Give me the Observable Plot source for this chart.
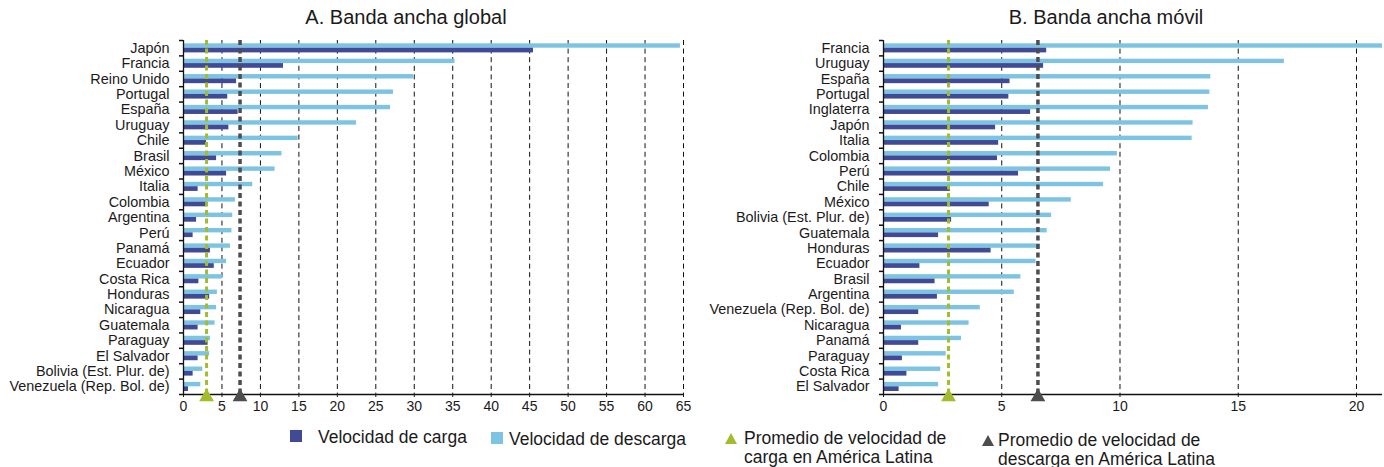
<!DOCTYPE html>
<html>
<head>
<meta charset="utf-8">
<script src="https://cdn.jsdelivr.net/npm/d3@7"></script>
<script src="https://cdn.jsdelivr.net/npm/@observablehq/plot@0.6"></script>
<style>
  html, body { margin: 0; padding: 0; background: #fff; }
  body { width: 1384px; height: 467px; position: relative; overflow: hidden; font-family: "Liberation Sans", Arial, sans-serif; color: #1a1a1a; }
  .title { position: absolute; top: 6px; font-size: 20px; white-space: nowrap; transform: translateX(-50%); }
  .panel { position: absolute; top: 0; }
  .leg { position: absolute; font-size: 17.5px; line-height: 19px; white-space: nowrap; }
  .sw { position: absolute; width: 12px; height: 12px; }
  .tri { position: absolute; width: 0; height: 0; border-left: 6px solid transparent; border-right: 6px solid transparent; border-bottom: 11px solid; }
</style>
</head>
<body>
<div class="title" style="left:406px">A. Banda ancha global</div>
<div class="title" style="left:1106px">B. Banda ancha móvil</div>
<div id="left" class="panel" style="left:0px"></div>
<div id="right" class="panel" style="left:700px"></div>

<div class="sw" style="left:290px;top:430px;background:#414a94"></div>
<div class="leg" style="left:318px;top:428px">Velocidad de carga</div>
<div class="sw" style="left:491px;top:432px;background:#7dc3e3"></div>
<div class="leg" style="left:509px;top:430px">Velocidad de descarga</div>
<div class="tri" style="left:725px;top:433px;border-bottom-color:#a3bd2a"></div>
<div class="leg" style="left:744px;top:429px">Promedio de velocidad de<br>carga en América Latina</div>
<div class="tri" style="left:982px;top:435px;border-bottom-color:#4d4d4f"></div>
<div class="leg" style="left:998px;top:431px">Promedio de velocidad de<br>descarga en América Latina</div>

<script>
// ---- Panel A: Banda ancha global ----
const globalCountries = ["Japón","Francia","Reino Unido","Portugal","España","Uruguay","Chile","Brasil","México","Italia","Colombia","Argentina","Perú","Panamá","Ecuador","Costa Rica","Honduras","Nicaragua","Guatemala","Paraguay","El Salvador","Bolivia (Est. Plur. de)","Venezuela (Rep. Bol. de)"];
const globalDownload = [64.6,35.3,29.9,27.3,26.9,22.5,14.9,12.8,11.9,9.0,6.75,6.4,6.3,6.1,5.6,5.1,4.4,4.3,4.1,3.5,3.4,2.5,2.25];
const globalUpload   = [45.5,13.0,6.9,5.75,7.1,5.9,3.0,4.3,5.6,1.9,3.1,1.7,1.25,3.5,4.0,2.0,3.4,2.25,1.9,3.2,1.9,1.25,0.65];
const globalAvgUpload = 3.0;
const globalAvgDownload = 7.35;
const globalTicks = [0,5,10,15,20,25,30,35,40,45,50,55,60,65];
const globalMax = 65;

// ---- Panel B: Banda ancha móvil ----
const mobileCountries = ["Francia","Uruguay","España","Portugal","Inglaterra","Japón","Italia","Colombia","Perú","Chile","México","Bolivia (Est. Plur. de)","Guatemala","Honduras","Ecuador","Brasil","Argentina","Venezuela (Rep. Bol. de)","Nicaragua","Panamá","Paraguay","Costa Rica","El Salvador"];
const mobileDownload = [21.1,16.95,13.84,13.8,13.74,13.09,13.05,9.89,9.6,9.3,7.94,7.11,6.92,6.63,6.45,5.81,5.53,4.09,3.62,3.3,2.65,2.42,2.33];
const mobileUpload   = [6.9,6.77,5.35,5.3,6.22,4.74,4.87,4.82,5.71,2.83,4.47,2.88,2.33,4.55,1.54,2.18,2.28,1.49,0.76,1.49,0.8,0.99,0.66];
const mobileAvgUpload = 2.75;
const mobileAvgDownload = 6.53;
const mobileTicks = [0,5,10,15,20];
const mobileMax = 21.1;

const DARK = "#414a94", LIGHT = "#7dc3e3", GREEN = "#a3bd2a", GREY = "#4d4d4f";
const FONT = "Liberation Sans, Arial, sans-serif";

function panel(countries, download, upload, avgUp, avgDown, ticks, xmax, width, marginLeft, marginRight) {
  const rows = countries.map((c, i) => ({country: c, down: download[i], up: upload[i]}));
  const height = 420, marginTop = 40, marginBottom = 26;
  const bw = (height - marginTop - marginBottom) / countries.length;
  const half = bw / 2;
  const unit = (width - marginLeft - marginRight) / xmax;
  const tickLen = 4 / unit;
  const last = countries[countries.length - 1];
  const gridTicks = ticks.filter(t => t > 0);
  return Plot.plot({
    width, height,
    marginLeft, marginRight, marginTop, marginBottom,
    style: {fontFamily: FONT, fontSize: "14px", color: "#1a1a1a", background: "transparent", overflow: "visible"},
    x: {domain: [0, xmax], ticks: ticks, tickFormat: d => String(d)},
    y: {domain: countries, padding: 0, round: false},
    marks: [
      Plot.ruleX(gridTicks, {x: d => d, stroke: "#111", strokeWidth: 1, strokeDasharray: "5,3.6"}),
      Plot.barX(rows, {y: "country", x: "down", fill: LIGHT, insetTop: 3.3, insetBottom: half}),
      Plot.barX(rows, {y: "country", x: "up", fill: DARK, insetTop: half, insetBottom: 3}),
      Plot.ruleX([avgUp], {x: d => d, stroke: GREEN, strokeWidth: 3, strokeDasharray: "5,3.5"}),
      Plot.ruleX([avgDown], {x: d => d, stroke: GREY, strokeWidth: 3.5, strokeDasharray: "5,3.5"}),
      Plot.ruleX([0], {stroke: "#111", strokeWidth: 1.3}),
      Plot.ruleY(countries, {y: d => d, x1: -tickLen, x2: 0, dy: -half, stroke: "#111", strokeWidth: 1.5}),
      Plot.ruleY([last], {y: d => d, dy: half, stroke: "#111", strokeWidth: 1.3}),
      Plot.ruleY([last], {y: d => d, x1: -tickLen, x2: 0, dy: half, stroke: "#111", strokeWidth: 1.5}),
      Plot.axisY({tickSize: 0, tickPadding: 14, fontSize: 14.4, label: null}),
      Plot.axisX({ticks: ticks, tickSize: 3, tickPadding: 4, fontSize: 14, label: null, anchor: "bottom", tickFormat: d => String(d)}),
      Plot.dot([avgUp], {x: d => d, frameAnchor: "bottom", symbol: "triangle", r: 5.5, fill: GREEN, stroke: "none", dy: 2.5}),
      Plot.dot([avgDown], {x: d => d, frameAnchor: "bottom", symbol: "triangle", r: 5.5, fill: GREY, stroke: "none", dy: 2.5})
    ]
  });
}

const left = panel(globalCountries, globalDownload, globalUpload, globalAvgUpload, globalAvgDownload, globalTicks, globalMax, 700, 183, 17);
const right = panel(mobileCountries, mobileDownload, mobileUpload, mobileAvgUpload, mobileAvgDownload, mobileTicks, mobileMax, 684, 183, 2);

document.getElementById("left").appendChild(left);
document.getElementById("right").appendChild(right);
</script>
</body>
</html>
